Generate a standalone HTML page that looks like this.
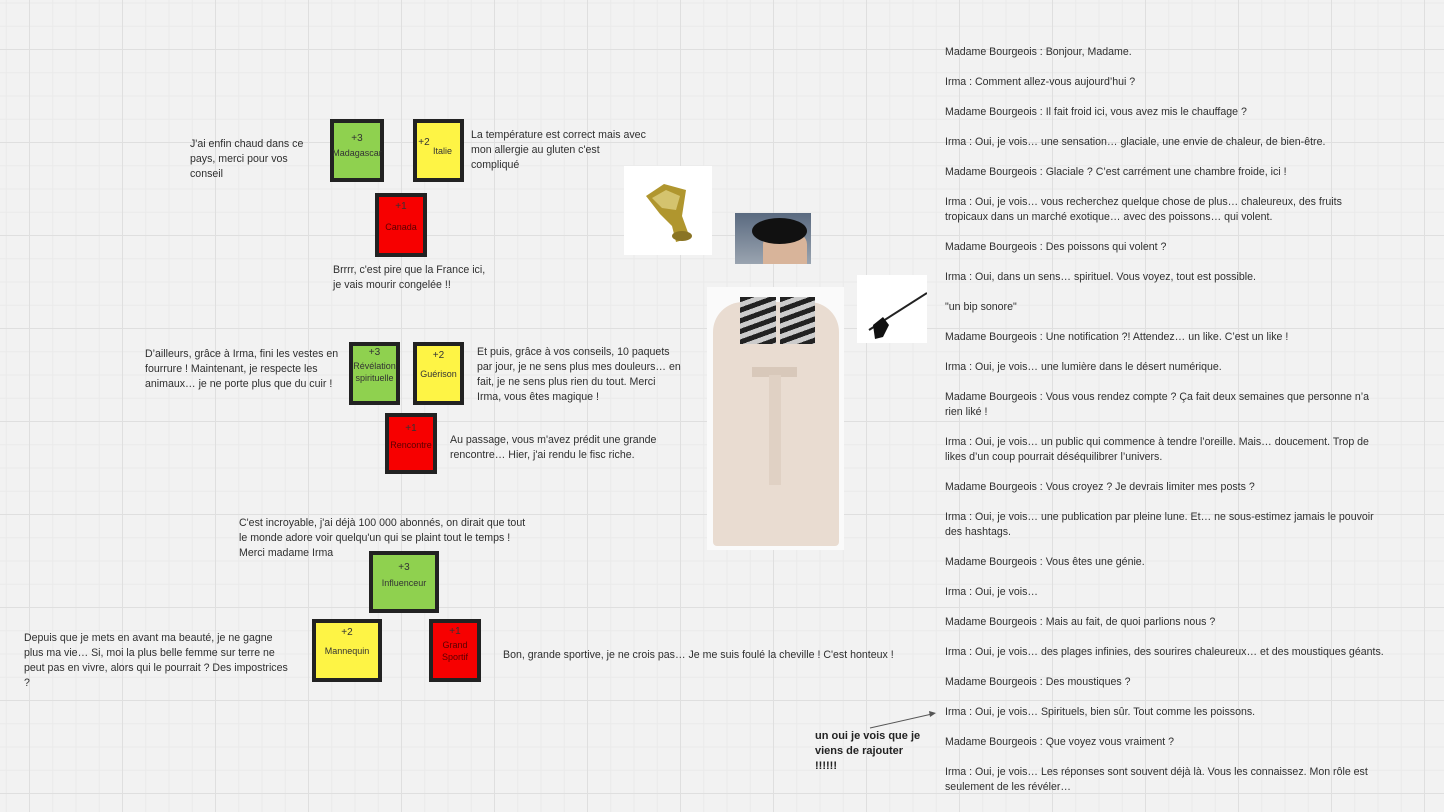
<!DOCTYPE html>
<html><head><meta charset="utf-8"><style>
html,body{margin:0;padding:0}
body{width:1444px;height:812px;overflow:hidden;position:relative;background-color:#f2f2f2;
background-image:
linear-gradient(to right,#dfdfdf 1px,transparent 1px),
linear-gradient(to bottom,#dfdfdf 1px,transparent 1px),
linear-gradient(to right,#eaeaea 1px,transparent 1px),
linear-gradient(to bottom,#eaeaea 1px,transparent 1px);
background-size:93px 93px,93px 93px,23.25px 23.25px,23.25px 23.25px;
background-position:29px 0,0 49px,29px 0,0 49px;
font-family:"Liberation Sans",sans-serif;color:#333}
.t{position:absolute;font-size:10.6px;line-height:15px;white-space:nowrap;color:#2f2f2f}
.b{position:absolute;box-sizing:border-box;border:4px solid #222;font-size:9px;color:#333;text-align:center;line-height:12px}
.g{background:#8fd14f}.y{background:#fef445}.r{background:#f70000;color:#5a0000}
.b .p{position:absolute;left:0;right:0;font-size:10px}
.b .l{position:absolute;left:-4px;right:-4px}
</style></head><body>

<div class="b g" style="left:330px;top:119px;width:54px;height:63px"><div class="p" style="top:10px">+3</div><div class="l" style="top:24px">Madagascar</div></div>
<div class="b y" style="left:413px;top:119px;width:51px;height:63px"><div class="p" style="top:14px;left:-8px;right:auto;width:30px">+2</div><div class="l" style="top:22px;left:4px">Italie</div></div>
<div class="b r" style="left:375px;top:193px;width:52px;height:64px"><div class="p" style="top:4px;color:#333">+1</div><div class="l" style="top:24px">Canada</div></div>

<div class="b g" style="left:349px;top:342px;width:51px;height:63px"><div class="p" style="top:1px">+3</div><div class="l" style="top:14px">Révélation<br>spirituelle</div></div>
<div class="b y" style="left:413px;top:342px;width:51px;height:63px"><div class="p" style="top:4px">+2</div><div class="l" style="top:22px">Guérison</div></div>
<div class="b r" style="left:385px;top:413px;width:52px;height:61px"><div class="p" style="top:6px;color:#333">+1</div><div class="l" style="top:22px">Rencontre</div></div>

<div class="b g" style="left:369px;top:551px;width:70px;height:62px"><div class="p" style="top:7px">+3</div><div class="l" style="top:22px">Influenceur</div></div>
<div class="b y" style="left:312px;top:619px;width:70px;height:63px"><div class="p" style="top:4px">+2</div><div class="l" style="top:22px">Mannequin</div></div>
<div class="b r" style="left:429px;top:619px;width:52px;height:63px"><div class="p" style="top:3px;color:#333">+1</div><div class="l" style="top:16px">Grand<br>Sportif</div></div>

<div class="t" style="left:190px;top:137px">J'ai enfin chaud dans ce<br>pays, merci pour vos<br>conseil</div>
<div class="t" style="left:471px;top:128px">La température est correct mais avec<br>mon allergie au gluten c'est<br>compliqué</div>
<div class="t" style="left:333px;top:263px">Brrrr, c'est pire que la France ici,<br>je vais mourir congelée !!</div>
<div class="t" style="left:145px;top:347px">D’ailleurs, grâce à Irma, fini les vestes en<br>fourrure ! Maintenant, je respecte les<br>animaux… je ne porte plus que du cuir !</div>
<div class="t" style="left:477px;top:345px">Et puis, grâce à vos conseils, 10 paquets<br>par jour, je ne sens plus mes douleurs… en<br>fait, je ne sens plus rien du tout. Merci<br>Irma, vous êtes magique !</div>
<div class="t" style="left:450px;top:433px">Au passage, vous m'avez prédit une grande<br>rencontre… Hier, j'ai rendu le fisc riche.</div>
<div class="t" style="left:239px;top:516px">C'est incroyable, j'ai déjà 100 000 abonnés, on dirait que tout<br>le monde adore voir quelqu'un qui se plaint tout le temps !<br>Merci madame Irma</div>
<div class="t" style="left:24px;top:631px">Depuis que je mets en avant ma beauté, je ne gagne<br>plus ma vie… Si, moi la plus belle femme sur terre ne<br>peut pas en vivre, alors qui le pourrait ? Des impostrices<br>?</div>
<div class="t" style="left:503px;top:648px">Bon, grande sportive, je ne crois pas… Je me suis foulé la cheville ! C'est honteux !</div>
<div class="t" style="left:815px;top:729px;font-weight:bold;color:#222;font-size:11px">un oui je vois que je<br>viens de rajouter<br>!!!!!!</div>
<svg style="position:absolute;left:860px;top:710px" width="80" height="25"><line x1="10" y1="18" x2="72" y2="4" stroke="#555" stroke-width="1"/><polygon points="76,3 69,1 70,7" fill="#555"/></svg>

<div style="position:absolute;left:624px;top:166px;width:88px;height:89px;background:#fff">
<svg width="88" height="89"><path d="M22 30 L40 18 L62 24 L58 50 L66 72 L52 76 L48 60 L36 48 Z" fill="#b0962e"/><path d="M28 32 L42 24 L56 30 L52 44 L38 42Z" fill="#e4d58a" opacity=".7"/><ellipse cx="58" cy="70" rx="10" ry="5" fill="#8a7424"/></svg></div>
<div style="position:absolute;left:735px;top:213px;width:76px;height:51px;background:linear-gradient(#5a6a80,#9aa4b0)">
<div style="position:absolute;left:28px;top:18px;width:44px;height:33px;background:#d8b49a;border-radius:40% 40% 0 0"></div>
<div style="position:absolute;left:17px;top:5px;width:55px;height:26px;background:#111;border-radius:50%"></div></div>
<div style="position:absolute;left:707px;top:287px;width:137px;height:263px;background:#fafafa">
<div style="position:absolute;left:6px;top:15px;width:126px;height:244px;background:#e9dcd1;border-radius:30px 30px 4px 4px"></div>
<div style="position:absolute;left:45px;top:80px;width:45px;height:10px;background:#d8c8ba"></div>
<div style="position:absolute;left:62px;top:88px;width:12px;height:110px;background:#e0d1c4"></div>
<div style="position:absolute;left:33px;top:10px;width:36px;height:47px;background:repeating-linear-gradient(160deg,#222 0 5px,#ccc 5px 10px)"></div>
<div style="position:absolute;left:73px;top:10px;width:35px;height:47px;background:repeating-linear-gradient(160deg,#222 0 5px,#ccc 5px 10px)"></div>
</div>
<div style="position:absolute;left:857px;top:275px;width:70px;height:68px;background:#fff">
<svg width="70" height="68"><line x1="12" y1="55" x2="70" y2="18" stroke="#222" stroke-width="2"/><path d="M16 50 L26 42 L32 50 L26 62 L18 64Z" fill="#111"/></svg></div>

<div class="t" style="left:945px;top:45px">Madame Bourgeois : Bonjour, Madame.</div>
<div class="t" style="left:945px;top:75px">Irma : Comment allez-vous aujourd’hui ?</div>
<div class="t" style="left:945px;top:105px">Madame Bourgeois : Il fait froid ici, vous avez mis le chauffage ?</div>
<div class="t" style="left:945px;top:135px">Irma : Oui, je vois… une sensation… glaciale, une envie de chaleur, de bien-être.</div>
<div class="t" style="left:945px;top:165px">Madame Bourgeois : Glaciale ? C’est carrément une chambre froide, ici !</div>
<div class="t" style="left:945px;top:195px">Irma : Oui, je vois… vous recherchez quelque chose de plus… chaleureux, des fruits<br>tropicaux dans un marché exotique… avec des poissons… qui volent.</div>
<div class="t" style="left:945px;top:240px">Madame Bourgeois : Des poissons qui volent ?</div>
<div class="t" style="left:945px;top:270px">Irma : Oui, dans un sens… spirituel. Vous voyez, tout est possible.</div>
<div class="t" style="left:945px;top:300px">"un bip sonore"</div>
<div class="t" style="left:945px;top:330px">Madame Bourgeois : Une notification ?! Attendez… un like. C’est un like !</div>
<div class="t" style="left:945px;top:360px">Irma : Oui, je vois… une lumière dans le désert numérique.</div>
<div class="t" style="left:945px;top:390px">Madame Bourgeois : Vous vous rendez compte ? Ça fait deux semaines que personne n’a<br>rien liké !</div>
<div class="t" style="left:945px;top:435px">Irma : Oui, je vois… un public qui commence à tendre l’oreille. Mais… doucement. Trop de<br>likes d’un coup pourrait déséquilibrer l’univers.</div>
<div class="t" style="left:945px;top:480px">Madame Bourgeois : Vous croyez ? Je devrais limiter mes posts ?</div>
<div class="t" style="left:945px;top:510px">Irma : Oui, je vois… une publication par pleine lune. Et… ne sous-estimez jamais le pouvoir<br>des hashtags.</div>
<div class="t" style="left:945px;top:555px">Madame Bourgeois : Vous êtes une génie.</div>
<div class="t" style="left:945px;top:585px">Irma : Oui, je vois…</div>
<div class="t" style="left:945px;top:615px">Madame Bourgeois : Mais au fait, de quoi parlions nous ?</div>
<div class="t" style="left:945px;top:645px">Irma : Oui, je vois… des plages infinies, des sourires chaleureux… et des moustiques géants.</div>
<div class="t" style="left:945px;top:675px">Madame Bourgeois : Des moustiques ?</div>
<div class="t" style="left:945px;top:705px">Irma : Oui, je vois… Spirituels, bien sûr. Tout comme les poissons.</div>
<div class="t" style="left:945px;top:735px">Madame Bourgeois : Que voyez vous vraiment ?</div>
<div class="t" style="left:945px;top:765px">Irma : Oui, je vois… Les réponses sont souvent déjà là. Vous les connaissez. Mon rôle est<br>seulement de les révéler…</div>
</body></html>
